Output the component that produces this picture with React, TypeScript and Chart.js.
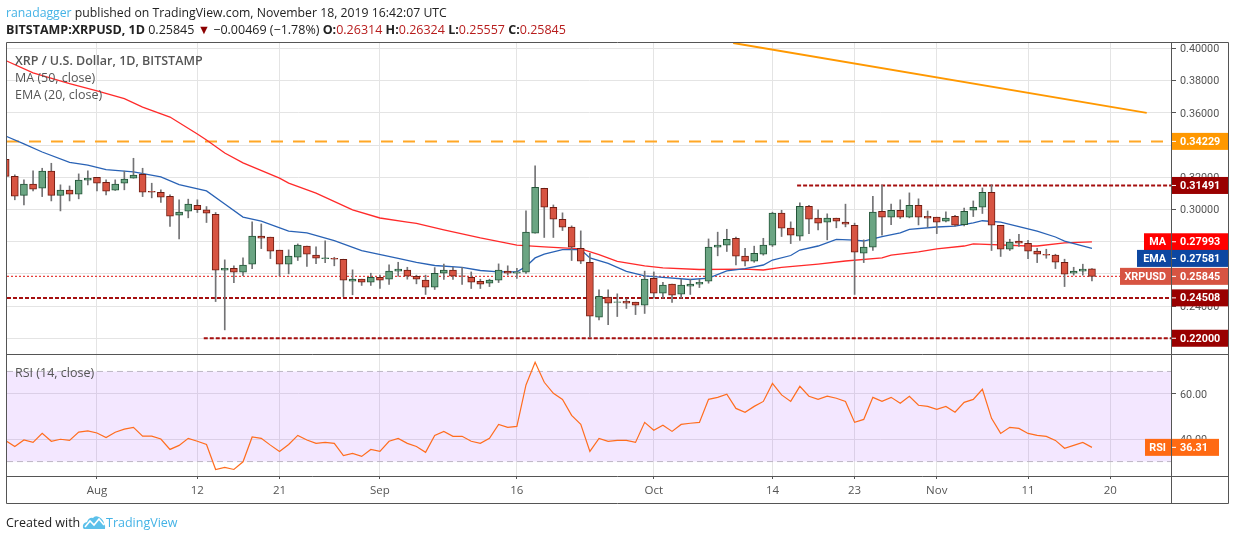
import { useEffect, useRef } from "react";
import Chart from "chart.js/auto";

// daily candles, 22 Jul to 18 Nov 2019
const opens = [
  0.3312, 0.3206, 0.3088, 0.3157, 0.3132, 0.3238, 0.3088, 0.312, 0.3095, 0.3182, 0.32, 0.3169, 0.312, 0.3163, 0.3194,
  0.3219, 0.3113, 0.3107, 0.3082, 0.2964, 0.2989, 0.3026, 0.2998, 0.297, 0.2623, 0.2635, 0.261, 0.266, 0.2834, 0.2828,
  0.2747, 0.266, 0.2703, 0.2772, 0.2716, 0.2695, 0.2697, 0.2691, 0.2554, 0.2567, 0.2548, 0.2579, 0.2567, 0.2617, 0.2623,
  0.2585, 0.2561, 0.2517, 0.2604, 0.2623, 0.2587, 0.2579, 0.2554, 0.2542, 0.2561, 0.2617, 0.2604, 0.261, 0.2853, 0.3132,
  0.3014, 0.2939, 0.289, 0.2759, 0.2672, 0.2331, 0.2455, 0.2422, 0.243, 0.2424, 0.2405, 0.2573, 0.248, 0.2536, 0.2474,
  0.2523, 0.2536, 0.2554, 0.2766, 0.2778, 0.2821, 0.271, 0.2679, 0.2722, 0.2778, 0.2977, 0.2884, 0.2834, 0.302, 0.2946,
  0.2921, 0.2946, 0.2921, 0.2902, 0.2728, 0.2766, 0.2989, 0.2952, 0.2995, 0.2952, 0.3026, 0.2958, 0.2952, 0.2927, 0.2958,
  0.2906, 0.2995, 0.3014, 0.3107, 0.2902, 0.2753, 0.2803, 0.279, 0.2741, 0.2722, 0.2716, 0.2672, 0.2604, 0.2617, 0.26314,
];
const highs = [
  0.3312, 0.3215, 0.3184, 0.324, 0.3256, 0.3287, 0.3153, 0.3146, 0.3221, 0.324, 0.32, 0.3184, 0.3184, 0.3238, 0.3318,
  0.3256, 0.3163, 0.3122, 0.3091, 0.306, 0.3064, 0.306, 0.3018, 0.2981, 0.2687, 0.265, 0.2699, 0.2923, 0.291, 0.2828,
  0.2747, 0.2749, 0.2786, 0.2772, 0.2768, 0.2805, 0.2703, 0.2691, 0.2625, 0.2567, 0.2604, 0.2592, 0.2656, 0.2672, 0.2641,
  0.2592, 0.2592, 0.2639, 0.266, 0.2641, 0.2641, 0.2612, 0.2567, 0.2567, 0.2662, 0.265, 0.2635, 0.2991, 0.3271, 0.3132,
  0.3028, 0.2979, 0.2898, 0.2867, 0.2728, 0.2501, 0.2501, 0.2476, 0.2445, 0.2424, 0.2617, 0.2612, 0.2548, 0.2536, 0.2567,
  0.2567, 0.2567, 0.2817, 0.2859, 0.2877, 0.2828, 0.2759, 0.2772, 0.2821, 0.2983, 0.2995, 0.2923, 0.3041, 0.3026, 0.2997,
  0.2973, 0.2946, 0.3033, 0.2915, 0.2811, 0.3082, 0.3151, 0.3033, 0.306, 0.3103, 0.3066, 0.2991, 0.2952, 0.2985, 0.2964,
  0.3008, 0.3053, 0.3134, 0.3153, 0.2902, 0.2815, 0.2846, 0.2809, 0.2759, 0.2753, 0.2722, 0.2691, 0.2641, 0.266, 0.26324,
];
const lows = [
  0.3206, 0.306, 0.3028, 0.3115, 0.308, 0.3053, 0.2991, 0.3053, 0.3066, 0.3153, 0.3115, 0.3091, 0.3118, 0.3122, 0.3194,
  0.308, 0.3072, 0.3043, 0.2894, 0.2817, 0.2948, 0.2981, 0.2919, 0.2428, 0.2252, 0.2546, 0.2588, 0.2633, 0.2757, 0.2695,
  0.2588, 0.26, 0.2683, 0.2646, 0.2664, 0.267, 0.265, 0.2459, 0.247, 0.2528, 0.2528, 0.2509, 0.2534, 0.2585, 0.2567,
  0.2538, 0.2472, 0.2503, 0.2565, 0.2565, 0.2534, 0.2509, 0.2509, 0.2521, 0.2546, 0.2592, 0.2571, 0.2602, 0.2853, 0.2826,
  0.2826, 0.2869, 0.2683, 0.2664, 0.2207, 0.2314, 0.2285, 0.2335, 0.2385, 0.2347, 0.2354, 0.2449, 0.2449, 0.2422, 0.2449,
  0.2472, 0.2515, 0.2542, 0.2712, 0.2739, 0.2656, 0.265, 0.2672, 0.2716, 0.277, 0.2832, 0.2788, 0.2807, 0.285, 0.2873,
  0.2811, 0.2886, 0.2892, 0.2472, 0.267, 0.2745, 0.284, 0.2906, 0.2944, 0.2948, 0.2904, 0.289, 0.285, 0.2923, 0.2896,
  0.2898, 0.2956, 0.2975, 0.2745, 0.2708, 0.2745, 0.277, 0.2695, 0.267, 0.2697, 0.2633, 0.2521, 0.2592, 0.2592, 0.25557,
];
const closes = [
  0.3206, 0.3082, 0.3157, 0.3126, 0.3238, 0.3088, 0.312, 0.3095, 0.3182, 0.3194, 0.3163, 0.3113, 0.3157, 0.3188, 0.3213,
  0.3107, 0.3107, 0.3076, 0.2958, 0.2983, 0.3033, 0.2998, 0.2977, 0.2623, 0.2635, 0.261, 0.2654, 0.2834, 0.2821, 0.2741,
  0.266, 0.271, 0.2778, 0.2722, 0.2697, 0.2699, 0.2691, 0.2561, 0.2567, 0.2548, 0.2579, 0.2561, 0.2617, 0.2629, 0.2585,
  0.2567, 0.2517, 0.2604, 0.2623, 0.2585, 0.2585, 0.2548, 0.2536, 0.2561, 0.2623, 0.2604, 0.2612, 0.2859, 0.3138, 0.3014,
  0.2939, 0.289, 0.2766, 0.2679, 0.2337, 0.2461, 0.2418, 0.2426, 0.2418, 0.2405, 0.2567, 0.248, 0.253, 0.2467, 0.253,
  0.2536, 0.2548, 0.2766, 0.2778, 0.2815, 0.271, 0.2679, 0.2728, 0.2778, 0.2977, 0.2884, 0.284, 0.302, 0.2939, 0.2915,
  0.2946, 0.2927, 0.2908, 0.2734, 0.2766, 0.2983, 0.2952, 0.2995, 0.2952, 0.3026, 0.2952, 0.2946, 0.2921, 0.2946, 0.2902,
  0.2989, 0.3014, 0.3107, 0.2902, 0.2753, 0.2797, 0.279, 0.2741, 0.2722, 0.2716, 0.2672, 0.2598, 0.2617, 0.2629, 0.25845,
];

const maDays = [
  0, 3, 7, 10, 13, 15, 18, 21, 22, 24, 26, 30, 31, 34, 38, 41, 44, 45, 48, 52, 56, 59, 63, 65, 67, 70, 72, 76, 81, 83, 85,
  89, 92, 96, 97, 100, 102, 105, 106, 112, 113, 116, 119,
];
const maValues = [
  0.3925, 0.3848, 0.3782, 0.3736, 0.3689, 0.3636, 0.3574, 0.3469, 0.3431, 0.3351, 0.3289, 0.3195, 0.3164, 0.3102, 0.2997,
  0.2947, 0.2922, 0.2913, 0.2873, 0.2823, 0.2779, 0.2767, 0.2755, 0.272, 0.2677, 0.2649, 0.2637, 0.2627, 0.263, 0.2624,
  0.264, 0.2661, 0.268, 0.2699, 0.2717, 0.2736, 0.2755, 0.2773, 0.2786, 0.2773, 0.2773, 0.2792, 0.27993,
];
const emaDays = [
  0, 2, 4, 7, 9, 11, 14, 17, 19, 22, 24, 26, 28, 31, 33, 36, 39, 43, 45, 47, 50, 52, 54, 56, 57, 58, 59, 61, 63, 64, 66, 68,
  70, 72, 75, 77, 79, 81, 83, 84, 86, 87, 89, 91, 93, 94, 96, 98, 99, 102, 104, 106, 107, 109, 113, 115, 116, 119,
];
const emaValues = [
  0.3456, 0.3407, 0.3357, 0.3292, 0.3276, 0.3248, 0.3233, 0.3202, 0.3155, 0.3115, 0.3034, 0.2953, 0.2928, 0.2866, 0.2854,
  0.2807, 0.2745, 0.2696, 0.2671, 0.2652, 0.264, 0.2621, 0.2612, 0.2612, 0.2646, 0.2699, 0.2723, 0.2751, 0.2751, 0.2699,
  0.2665, 0.2615, 0.2587, 0.2578, 0.2565, 0.2574, 0.2618, 0.2633, 0.2655, 0.2686, 0.2714, 0.2748, 0.2773, 0.2814, 0.281,
  0.2804, 0.2832, 0.2854, 0.2876, 0.2891, 0.2897, 0.2916, 0.293, 0.2922, 0.2866, 0.2829, 0.2804, 0.27581,
];
const rsiValues = [
  39.3, 36.7, 39.6, 38.5, 42.5, 39.0, 39.9, 39.4, 43.1, 43.6, 42.7, 40.7, 43.0, 44.4, 45.2, 41.3, 41.3, 40.0, 35.4, 37.2,
  40.3, 39.0, 37.6, 26.5, 27.4, 26.5, 29.9, 40.9, 40.3, 37.3, 34.5, 37.6, 41.6, 39.6, 38.1, 38.5, 38.1, 32.7, 33.6, 32.3,
  35.4, 34.5, 39.0, 40.3, 38.1, 36.7, 34.1, 41.6, 43.4, 41.2, 41.2, 39.0, 38.1, 40.3, 46.5, 45.2, 45.6, 64.0, 74.1, 65.2,
  60.3, 57.6, 50.5, 46.5, 34.5, 40.3, 39.0, 39.4, 39.4, 38.5, 47.4, 43.9, 46.1, 43.4, 46.5, 47.0, 47.4, 57.6, 58.5, 59.9,
  53.6, 51.9, 54.5, 56.7, 64.7, 59.6, 56.7, 63.4, 59.0, 57.6, 59.0, 58.1, 56.7, 47.4, 48.7, 58.5, 56.7, 58.5, 55.9, 59.0,
  55.0, 54.5, 53.2, 54.5, 51.9, 56.3, 57.6, 62.1, 49.2, 42.5, 45.2, 44.7, 42.5, 41.6, 41.2, 39.4, 35.9, 37.2, 38.5, 36.31,
];

const tickDays = [10, 21, 30, 41, 56, 71, 84, 93, 102, 112, 121];
const tickLabels = ["Aug", "12", "21", "Sep", "16", "Oct", "14", "23", "Nov", "11", "20"];
const priceTicks = [0.22, 0.24, 0.26, 0.28, 0.3, 0.32, 0.34, 0.36, 0.38, 0.4];
const rsiTicks = [40, 60];

const FIRST_DAY = 0.145;
const LAST_DAY = 127.77;
const PRICE_LAST = 0.25845;
const RESISTANCE = 0.34229;
const RANGE_TOP = 0.31491;
const SUPPORT = 0.24508;
const RANGE_LOW = 0.22;
const trendDays = [79.7, 125];
const trendValues = [0.4034, 0.36];

const UP = "#6ba583";
const DOWN = "#d75442";
const UP_EDGE = "#225437";
const DOWN_EDGE = "#6e1c12";
const LEVEL = "#a50f0f";
const FRAME = "#555555";
const FONT = '"Open Sans", sans-serif';
const AXIS_FONT = "Roboto, sans-serif";

const days = opens.map((_, i) => i);
const isUp = closes.map((c, i) => c >= opens[i]);

function levelLine(value: number, from: number, color: string, dash: number[], width: number) {
  return {
    type: "line" as const,
    data: [
      { x: from, y: value },
      { x: LAST_DAY, y: value },
    ],
    borderColor: color,
    borderWidth: width,
    borderDash: dash,
    pointRadius: 0,
    order: 5,
    yAxisID: "y",
  };
}

function drawTag(
  ctx: CanvasRenderingContext2D,
  right: number,
  boxRight: number,
  y: number,
  color: string,
  value: string,
  label?: string,
  labelLeft?: number,
) {
  ctx.fillStyle = color;
  ctx.fillRect(right, y - 8.5, boxRight - right, 17);
  if (label && labelLeft) ctx.fillRect(labelLeft, y - 8.5, right - labelLeft - 1, 17);
  ctx.fillStyle = "#ffffff";
  ctx.fillRect(right, y - 0.5, 4, 1);
  ctx.font = `700 10.8px ${AXIS_FONT}`;
  ctx.textBaseline = "middle";
  ctx.textAlign = "left";
  ctx.fillText(value, right + 8, y + 0.7);
  if (label) {
    ctx.textAlign = "right";
    ctx.fillText(label, right - 6, y + 0.7);
  }
}

const panesPlugin = {
  id: "panes",
  beforeDatasetsDraw(chart: any) {
    const { ctx, chartArea, scales } = chart;
    const top = scales.yRsi.getPixelForValue(70);
    const bottom = scales.yRsi.getPixelForValue(30);
    ctx.save();
    ctx.fillStyle = "rgba(149, 40, 255, 0.11)";
    ctx.fillRect(chartArea.left, top, chartArea.width, bottom - top);
    ctx.strokeStyle = "#bdb6c4";
    ctx.setLineDash([6, 4]);
    ctx.lineWidth = 1;
    [top, bottom].forEach((y) => {
      ctx.beginPath();
      ctx.moveTo(chartArea.left, y);
      ctx.lineTo(chartArea.right, y);
      ctx.stroke();
    });
    ctx.restore();
  },
  afterDraw(chart: any) {
    const { ctx, chartArea, scales } = chart;
    const { left, right, top, bottom } = chartArea;
    const edge = chart.width - 6;
    const split = scales.y.bottom;
    const foot = scales.x.bottom;
    const py = (v: number) => scales.y.getPixelForValue(v);
    ctx.save();
    drawTag(ctx, right, edge, py(RESISTANCE), "#ff9800", RESISTANCE.toFixed(5));
    drawTag(ctx, right, edge, py(RANGE_TOP), "#990000", RANGE_TOP.toFixed(5));
    drawTag(ctx, right, edge, py(maValues[maValues.length - 1]), "#ff0000", "0.27993", "MA", right - 28);
    // the EMA tag is pushed down so it does not sit on the MA tag
    drawTag(ctx, right, edge, py(emaValues[emaValues.length - 1]) + 10, "#0d47a1", "0.27581", "EMA", right - 35);
    drawTag(ctx, right, edge, py(PRICE_LAST), DOWN, PRICE_LAST.toFixed(5), "XRPUSD", right - 52);
    drawTag(ctx, right, edge, py(SUPPORT), "#990000", SUPPORT.toFixed(5));
    drawTag(ctx, right, edge, py(RANGE_LOW), "#990000", RANGE_LOW.toFixed(5));
    drawTag(ctx, right, right + 47, scales.yRsi.getPixelForValue(36.31), "#ff6a13", "36.31", "RSI", right - 27);

    ctx.strokeStyle = FRAME;
    ctx.lineWidth = 1;
    ctx.beginPath();
    ctx.rect(left - 0.5, top - 0.5, edge - left + 1, foot - top + 1);
    ctx.moveTo(left, split - 0.5);
    ctx.lineTo(edge, split - 0.5);
    ctx.moveTo(left, bottom + 0.5);
    ctx.lineTo(edge, bottom + 0.5);
    ctx.moveTo(right - 0.5, top);
    ctx.lineTo(right - 0.5, foot);
    ctx.stroke();
    ctx.restore();
  },
};

const textStyle = { position: "absolute", whiteSpace: "nowrap", fontFamily: FONT } as const;

export default function App() {
  const canvasRef = useRef<HTMLCanvasElement | null>(null);

  useEffect(() => {
    if (!canvasRef.current) return;
    const tickColor = "#e4e4e4";

    const chart = new Chart(canvasRef.current, {
      type: "line",
      plugins: [panesPlugin],
      data: {
        datasets: [
          {
            type: "bar",
            data: days.map((x) => ({ x, y: [opens[x], closes[x]] })),
            backgroundColor: isUp.map((u) => (u ? UP : DOWN)),
            borderColor: isUp.map((u) => (u ? UP_EDGE : DOWN_EDGE)),
            borderWidth: 1,
            borderSkipped: false,
            barThickness: 7,
            grouped: false,
            order: 1,
            yAxisID: "y",
          },
          {
            type: "bar",
            data: days.map((x) => ({ x, y: [lows[x], highs[x]] })),
            backgroundColor: "#737375",
            barThickness: 1,
            grouped: false,
            order: 2,
            yAxisID: "y",
          },
          {
            type: "line",
            data: emaDays.map((x, i) => ({ x, y: emaValues[i] })),
            borderColor: "#2962b5",
            borderWidth: 1.3,
            pointRadius: 0,
            order: 3,
            yAxisID: "y",
          },
          {
            type: "line",
            data: maDays.map((x, i) => ({ x, y: maValues[i] })),
            borderColor: "#ff2a2a",
            borderWidth: 1.3,
            pointRadius: 0,
            order: 4,
            yAxisID: "y",
          },
          levelLine(RESISTANCE, FIRST_DAY, "#ffa726", [12, 10], 2),
          levelLine(RANGE_TOP, 86.7, LEVEL, [4, 2], 2),
          levelLine(SUPPORT, FIRST_DAY, LEVEL, [4, 2], 2),
          levelLine(RANGE_LOW, 21.7, LEVEL, [4, 2], 2),
          levelLine(PRICE_LAST, FIRST_DAY, "#e53935", [2, 2], 1.2),
          {
            type: "line",
            data: trendDays.map((x, i) => ({ x, y: trendValues[i] })),
            borderColor: "#ff9800",
            borderWidth: 2,
            pointRadius: 0,
            order: 5,
            yAxisID: "y",
          },
          {
            type: "line",
            data: days.map((x) => ({ x, y: rsiValues[x] })),
            borderColor: "#ff6d1e",
            borderWidth: 1.2,
            pointRadius: 0,
            order: 3,
            yAxisID: "yRsi",
          },
        ],
      },
      options: {
        responsive: false,
        animation: false,
        events: [],
        layout: { padding: { left: 7, top: 43, right: 6, bottom: 37 } },
        plugins: { legend: { display: false }, tooltip: { enabled: false } },
        scales: {
          x: {
            type: "linear",
            min: FIRST_DAY,
            max: LAST_DAY,
            offset: false,
            afterFit: (s: any) => {
              s.height = 27;
            },
            afterBuildTicks: (s: any) => {
              s.ticks = tickDays.map((value) => ({ value }));
            },
            border: { display: false },
            grid: { offset: false, color: tickColor, tickColor: FRAME, tickLength: 3 },
            ticks: {
              autoSkip: false,
              maxRotation: 0,
              padding: 5,
              color: "#555555",
              font: { family: FONT, size: 11.5 },
              callback: (v: any) => tickLabels[tickDays.indexOf(v)],
            },
          },
          y: {
            position: "right",
            stack: "panes",
            stackWeight: 312,
            min: 0.2096,
            max: 0.4034,
            afterFit: (s: any) => {
              s.width = 56;
            },
            afterBuildTicks: (s: any) => {
              s.ticks = priceTicks.map((value) => ({ value }));
            },
            border: { display: false },
            grid: { color: tickColor, tickColor: FRAME, tickLength: 4 },
            ticks: {
              padding: 4,
              labelOffset: 1,
              color: "#555555",
              font: { family: AXIS_FONT, size: 10.8 },
              callback: (v: any) => Number(v).toFixed(5),
            },
          },
          yRsi: {
            position: "right",
            stack: "panes",
            stackWeight: 121,
            min: 23.6,
            max: 77.3,
            afterFit: (s: any) => {
              s.width = 56;
            },
            afterBuildTicks: (s: any) => {
              s.ticks = rsiTicks.map((value) => ({ value }));
            },
            border: { display: false },
            grid: { color: tickColor, tickColor: FRAME, tickLength: 4 },
            ticks: {
              padding: 4,
              labelOffset: 1,
              color: "#555555",
              font: { family: AXIS_FONT, size: 10.8 },
              callback: (v: any) => Number(v).toFixed(2),
            },
          },
        },
      },
    });

    return () => chart.destroy();
  }, []);

  const red = { color: "#b71c1c" };
  return (
    <div style={{ position: "absolute", left: 0, top: 0, width: 1234, height: 540, background: "#fff", overflow: "hidden" }}>
      <canvas ref={canvasRef} width={1234} height={540} style={{ display: "block" }} />
      <div style={{ ...textStyle, left: 6, top: 4, fontSize: 12.25, color: "#222" }}>
        <span style={{ color: "#45b3e6" }}>ranadagger</span> published on TradingView.com, November 18, 2019 16:42:07 UTC
      </div>
      <div style={{ ...textStyle, left: 6, top: 21, fontSize: 12.5, color: "#222" }}>
        <b>BITSTAMP:XRPUSD, 1D</b> 0.25845 <span style={{ color: "#8b0000" }}>▼</span> −0.00469 (−1.78%) <b>O:</b>
        <span style={red}>0.26314</span> <b>H:</b>
        <span style={red}>0.26324</span> <b>L:</b>
        <span style={red}>0.25557</span> <b>C:</b>
        <span style={red}>0.25845</span>
      </div>
      <div style={{ ...textStyle, left: 15, top: 52, fontSize: 12.5, fontWeight: 600, color: "#555" }}>
        XRP / U.S. Dollar, 1D, BITSTAMP
      </div>
      <div style={{ ...textStyle, left: 15, top: 69, fontSize: 12.5, color: "#555" }}>MA (50, close)</div>
      <div style={{ ...textStyle, left: 15, top: 86, fontSize: 12.5, color: "#555" }}>EMA (20, close)</div>
      <div style={{ ...textStyle, left: 15, top: 364, fontSize: 12.5, color: "#555" }}>RSI (14, close)</div>
      <div style={{ ...textStyle, left: 6, top: 514, fontSize: 12.5, color: "#222" }}>Created with</div>
      <svg style={{ position: "absolute", left: 82, top: 515 }} width={24} height={15} viewBox="0 0 24 15">
        <path d="M1 13 Q0 8 5 7 Q7 2 11 3 Q13 0 17 2 Q22 5 22 9 Q24 11 23 14 L2 14 Z" fill="#5cc0ea" />
        <path d="M3 12 L8 6 L12 10 L17 4 L22 10" fill="none" stroke="#fff" strokeWidth={1.6} />
      </svg>
      <div style={{ ...textStyle, left: 106, top: 514, fontSize: 12.5, color: "#45b3e6" }}>TradingView</div>
    </div>
  );
}
